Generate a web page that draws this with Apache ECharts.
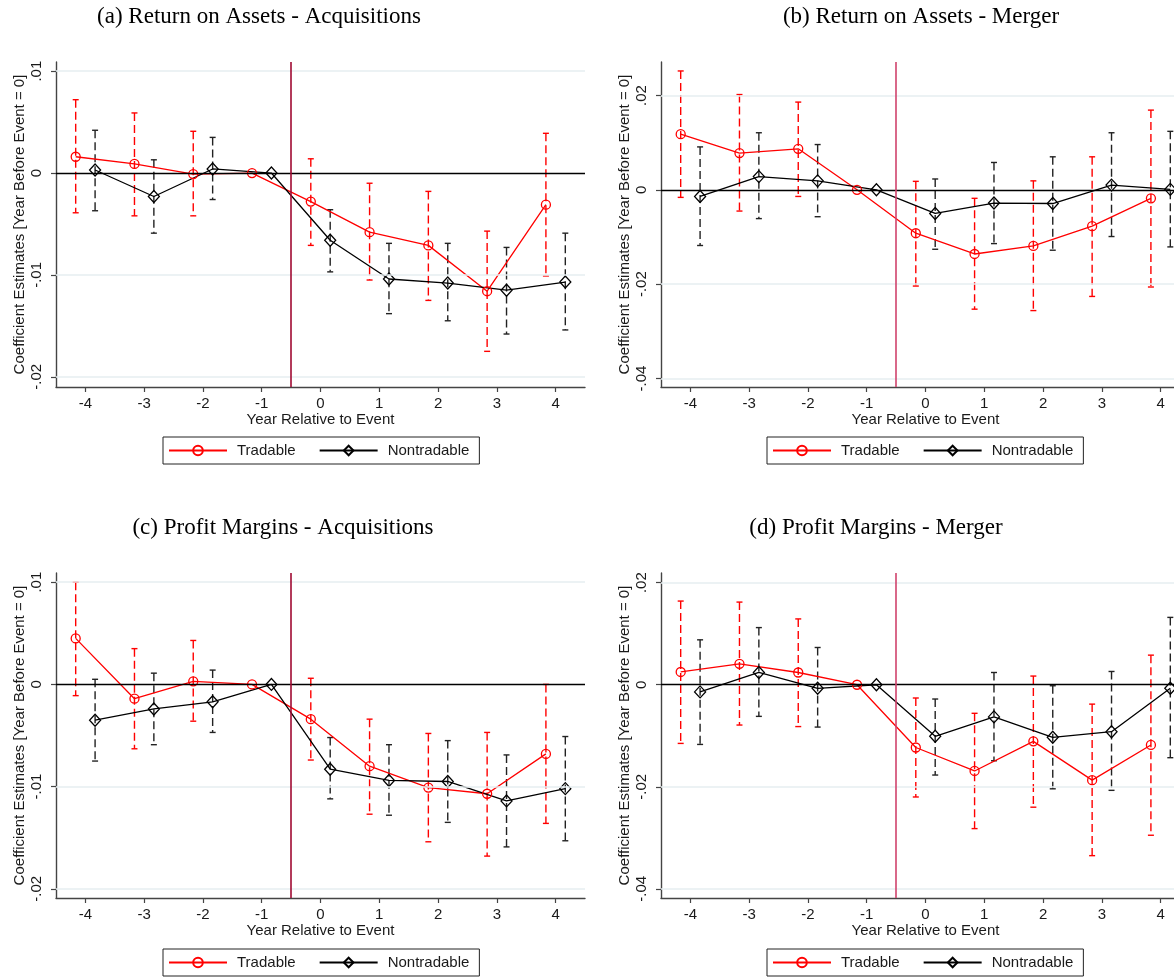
<!DOCTYPE html>
<html>
<head>
<meta charset="utf-8">
<script src="https://cdn.jsdelivr.net/npm/echarts@6/dist/echarts.min.js"></script>
<style>
  html, body { margin: 0; padding: 0; background: #fff; }
  #chart { width: 1174px; height: 977px; }
</style>
</head>
<body>
<div id="chart"></div>
<script>
// Event-study coefficients, years relative to the event (year -1 is the omitted base year)
const years = [-4, -3, -2, -1, 0, 1, 2, 3, 4];

// (a) Return on Assets - Acquisitions
const roaAcqTradable    = [0.0016, 0.0009, -0.0001, 0, -0.0028, -0.0058, -0.0071, -0.0116, -0.0031];
const roaAcqTradableLo  = [-0.0039, -0.0042, -0.0042, null, -0.0071, -0.0105, -0.0125, -0.0175, -0.0101];
const roaAcqTradableHi  = [0.0072, 0.0059, 0.0041, null, 0.0014, -0.0010, -0.0018, -0.0057, 0.0039];
const roaAcqNontradable   = [0.0003, -0.0023, 0.0004, 0, -0.0066, -0.0104, -0.0108, -0.0115, -0.0107];
const roaAcqNontradableLo = [-0.0037, -0.0059, -0.0026, null, -0.0097, -0.0138, -0.0145, -0.0158, -0.0154];
const roaAcqNontradableHi = [0.0042, 0.0013, 0.0035, null, -0.0036, -0.0069, -0.0069, -0.0073, -0.0059];

// (b) Return on Assets - Merger
const roaMerTradable    = [0.0118, 0.0078, 0.0087, 0, -0.0092, -0.0136, -0.0119, -0.0077, -0.0018];
const roaMerTradableLo  = [-0.0016, -0.0045, -0.0014, null, -0.0204, -0.0253, -0.0256, -0.0226, -0.0206];
const roaMerTradableHi  = [0.0252, 0.0202, 0.0186, null, 0.0018, -0.0018, 0.0019, 0.0070, 0.0169];
const roaMerNontradable   = [-0.0014, 0.0028, 0.0019, 0, -0.0050, -0.0028, -0.0029, 0.0010, 0.0001];
const roaMerNontradableLo = [-0.0118, -0.0061, -0.0057, null, -0.0126, -0.0114, -0.0128, -0.0099, -0.0121];
const roaMerNontradableHi = [0.0091, 0.0121, 0.0096, null, 0.0023, 0.0058, 0.0070, 0.0121, 0.0124];

// (c) Profit Margins - Acquisitions
const pmAcqTradable    = [0.0045, -0.0014, 0.0003, 0, -0.0034, -0.0080, -0.0101, -0.0107, -0.0068];
const pmAcqTradableLo  = [-0.0011, -0.0063, -0.0036, null, -0.0074, -0.0127, -0.0154, -0.0168, -0.0136];
const pmAcqTradableHi  = [0.0100, 0.0035, 0.0043, null, 0.0006, -0.0034, -0.0048, -0.0047, 0.0000];
const pmAcqNontradable   = [-0.0035, -0.0024, -0.0017, 0, -0.0083, -0.0094, -0.0095, -0.0114, -0.0102];
const pmAcqNontradableLo = [-0.0075, -0.0059, -0.0047, null, -0.0112, -0.0128, -0.0135, -0.0159, -0.0153];
const pmAcqNontradableHi = [0.0005, 0.0011, 0.0014, null, -0.0052, -0.0059, -0.0055, -0.0069, -0.0051];

// (d) Profit Margins - Merger
const pmMerTradable    = [0.0025, 0.0041, 0.0024, 0, -0.0123, -0.0169, -0.0111, -0.0187, -0.0118];
const pmMerTradableLo  = [-0.0115, -0.0079, -0.0082, null, -0.0220, -0.0282, -0.0240, -0.0335, -0.0295];
const pmMerTradableHi  = [0.0164, 0.0162, 0.0129, null, -0.0026, -0.0056, 0.0017, -0.0038, 0.0058];
const pmMerNontradable   = [-0.0014, 0.0024, -0.0007, 0, -0.0101, -0.0063, -0.0103, -0.0092, -0.0007];
const pmMerNontradableLo = [-0.0117, -0.0062, -0.0083, null, -0.0177, -0.0149, -0.0204, -0.0207, -0.0143];
const pmMerNontradableHi = [0.0088, 0.0112, 0.0073, null, -0.0028, 0.0024, -0.0002, 0.0026, 0.0132];

// Axis ticks
const xTicks = [-4, -3, -2, -1, 0, 1, 2, 3, 4];
const yTicksAcq = [-0.02, -0.01, 0, 0.01];
const yTicksMer = [-0.04, -0.02, 0, 0.02];

const titles = [
  '(a) Return on Assets - Acquisitions',
  '(b) Return on Assets - Merger',
  '(c) Profit Margins - Acquisitions',
  '(d) Profit Margins - Merger'
];
const seriesNames = ['Tradable', 'Nontradable'];
const xAxisTitle = 'Year Relative to Event';
const yAxisTitle = 'Coefficient Estimates [Year Before Event = 0]';

// Layout of the four panels
const panels = [
  { left: 56,  top: 62,  yMin: -0.0210, yMax: 0.0109, ticks: yTicksAcq, titleX: 259, titleY: 17,  legendX: 163, legendY: 437, eventColor: '#a00a32',
    t: roaAcqTradable, tLo: roaAcqTradableLo, tHi: roaAcqTradableHi, n: roaAcqNontradable, nLo: roaAcqNontradableLo, nHi: roaAcqNontradableHi },
  { left: 661, top: 62,  yMin: -0.0418, yMax: 0.0271, ticks: yTicksMer, titleX: 921, titleY: 17,  legendX: 767, legendY: 437, eventColor: '#d0436c',
    t: roaMerTradable, tLo: roaMerTradableLo, tHi: roaMerTradableHi, n: roaMerNontradable, nLo: roaMerNontradableLo, nHi: roaMerNontradableHi },
  { left: 56,  top: 573, yMin: -0.0209, yMax: 0.0109, ticks: yTicksAcq, titleX: 283, titleY: 528, legendX: 163, legendY: 949, eventColor: '#a00a32',
    t: pmAcqTradable, tLo: pmAcqTradableLo, tHi: pmAcqTradableHi, n: pmAcqNontradable, nLo: pmAcqNontradableLo, nHi: pmAcqNontradableHi },
  { left: 661, top: 573, yMin: -0.0418, yMax: 0.0219, ticks: yTicksMer, titleX: 876, titleY: 528, legendX: 767, legendY: 949, eventColor: '#d0436c',
    t: pmMerTradable, tLo: pmMerTradableLo, tHi: pmMerTradableHi, n: pmMerNontradable, nLo: pmMerNontradableLo, nHi: pmMerNontradableHi }
];

const PLOT_W = 529, PLOT_H = 325;
const OFFSET = 0.165;             // horizontal dodge between the two groups
const RED = '#ff0000', BLACK = '#000000', BAR_BLACK = '#222222';
const AXIS_COLOR = '#444444', TEXT_COLOR = '#1a1a1a', GRID_COLOR = '#e6eef1';
const SANS = '"Liberation Sans", Arial, Helvetica, sans-serif';
const SERIF = '"Liberation Serif", "Times New Roman", serif';
const FONT_SIZE = 15;

function fmtY(v) {
  if (Math.abs(v) < 1e-12) return '0';
  const s = Math.abs(v).toFixed(2).replace(/^0/, '');
  return (v < 0 ? '-' : '') + s;
}

// Dashed vertical interval with short caps
function errorBars(color) {
  return function (params, api) {
    const x = api.value(0);
    const top = api.coord([x, api.value(2)]);
    const bot = api.coord([x, api.value(1)]);
    const cap = 3;
    const capStyle = { stroke: color, lineWidth: 1.4 };
    return {
      type: 'group',
      children: [
        { type: 'line', shape: { x1: top[0], y1: top[1], x2: bot[0], y2: bot[1] },
          style: { stroke: color, lineWidth: 1.4, lineDash: [8, 4] } },
        { type: 'line', shape: { x1: top[0] - cap, y1: top[1], x2: top[0] + cap, y2: top[1] }, style: capStyle },
        { type: 'line', shape: { x1: bot[0] - cap, y1: bot[1], x2: bot[0] + cap, y2: bot[1] }, style: capStyle }
      ]
    };
  };
}

const grid = [], xAxis = [], yAxis = [], series = [], legend = [], graphic = [];

panels.forEach((p, i) => {
  grid.push({ left: p.left, top: p.top, width: PLOT_W, height: PLOT_H, outerBoundsMode: 'none' });

  xAxis.push({
    type: 'value', gridIndex: i, min: -4.5, max: 4.5,
    axisLine: { show: true, onZero: false, lineStyle: { color: AXIS_COLOR, width: 1.4 } },
    axisTick: { show: true, length: 5, customValues: xTicks, lineStyle: { color: AXIS_COLOR, width: 1.2 } },
    axisLabel: { customValues: xTicks, fontFamily: SANS, fontSize: FONT_SIZE, color: TEXT_COLOR, margin: 9 },
    splitLine: { show: false },
    name: xAxisTitle, nameLocation: 'middle', nameGap: 24,
    nameTextStyle: { fontFamily: SANS, fontSize: FONT_SIZE, color: TEXT_COLOR, verticalAlign: 'top' }
  });

  yAxis.push({
    type: 'value', gridIndex: i, min: p.yMin, max: p.yMax,
    axisLine: { show: true, onZero: false, lineStyle: { color: AXIS_COLOR, width: 1.4 } },
    axisTick: { show: true, length: 5, customValues: p.ticks, lineStyle: { color: AXIS_COLOR, width: 1.2 } },
    axisLabel: { customValues: p.ticks, rotate: 90, formatter: fmtY, fontFamily: SANS, fontSize: FONT_SIZE, color: TEXT_COLOR, margin: 12 },
    splitLine: { show: false },
    name: yAxisTitle, nameLocation: 'middle', nameGap: 29,
    nameTextStyle: { fontFamily: SANS, fontSize: FONT_SIZE, color: TEXT_COLOR }
  });

  // Reference lines: pale grid at labelled values, zero line and event line
  series.push({
    type: 'line', xAxisIndex: i, yAxisIndex: i, data: [], silent: true, z: 0,
    markLine: {
      silent: true, symbol: 'none', label: { show: false },
      lineStyle: { color: GRID_COLOR, width: 1.6, type: 'solid' },
      data: p.ticks.filter(v => v !== 0).map(v => ({ yAxis: v }))
    }
  });
  series.push({
    type: 'line', xAxisIndex: i, yAxisIndex: i, data: [], silent: true, z: 1,
    markLine: {
      silent: true, symbol: 'none', label: { show: false }, animation: false,
      data: [
        { yAxis: 0, lineStyle: { color: BLACK, width: 1.3, type: 'solid' } },
        { xAxis: -0.5, lineStyle: { color: p.eventColor, width: 1.6, type: 'solid' } }
      ]
    }
  });

  const barData = (lo, hi, off) => years
    .map((y, k) => [y + off, lo[k], hi[k]])
    .filter(d => d[1] !== null && d[2] !== null);

  series.push({
    type: 'custom', name: 'Tradable CI', xAxisIndex: i, yAxisIndex: i, z: 2, silent: true,
    renderItem: errorBars(RED), encode: { x: 0, y: [1, 2] },
    data: barData(p.tLo, p.tHi, -OFFSET)
  });
  series.push({
    type: 'custom', name: 'Nontradable CI', xAxisIndex: i, yAxisIndex: i, z: 2, silent: true,
    renderItem: errorBars(BAR_BLACK), encode: { x: 0, y: [1, 2] },
    data: barData(p.nLo, p.nHi, OFFSET)
  });

  series.push({
    type: 'line', name: seriesNames[0], xAxisIndex: i, yAxisIndex: i, z: 3,
    data: years.map((y, k) => [y - OFFSET, p.t[k]]),
    symbol: 'circle', symbolSize: 9, showAllSymbol: true,
    lineStyle: { color: RED, width: 1.3 },
    itemStyle: { color: 'rgba(255,255,255,0)', borderColor: RED, borderWidth: 1.3 }
  });
  series.push({
    type: 'line', name: seriesNames[1], xAxisIndex: i, yAxisIndex: i, z: 3,
    data: years.map((y, k) => [y + OFFSET, p.n[k]]),
    symbol: 'diamond', symbolSize: [11, 12], showAllSymbol: true,
    lineStyle: { color: BLACK, width: 1.3 },
    itemStyle: { color: 'rgba(255,255,255,0)', borderColor: BLACK, borderWidth: 1.3 }
  });

  legend.push({
    data: seriesNames, left: p.legendX, top: p.legendY, orient: 'horizontal',
    borderColor: '#222', borderWidth: 1, borderRadius: 0,
    padding: [6, 10, 6, 5], itemGap: 23, itemWidth: 58, itemHeight: 12,
    selectedMode: false,
    textStyle: { fontFamily: SANS, fontSize: FONT_SIZE, color: TEXT_COLOR, padding: [0, 0, 0, 5] }
  });

  graphic.push({
    type: 'text', x: p.titleX, y: p.titleY, silent: true,
    style: { text: titles[i], font: '23px ' + SERIF, fill: '#000', align: 'center', verticalAlign: 'middle' }
  });
});

const chart = echarts.init(document.getElementById('chart'), null, { renderer: 'canvas' });
chart.setOption({
  backgroundColor: '#ffffff',
  animation: false,
  grid, xAxis, yAxis, series, legend, graphic
});
</script>
</body>
</html>
